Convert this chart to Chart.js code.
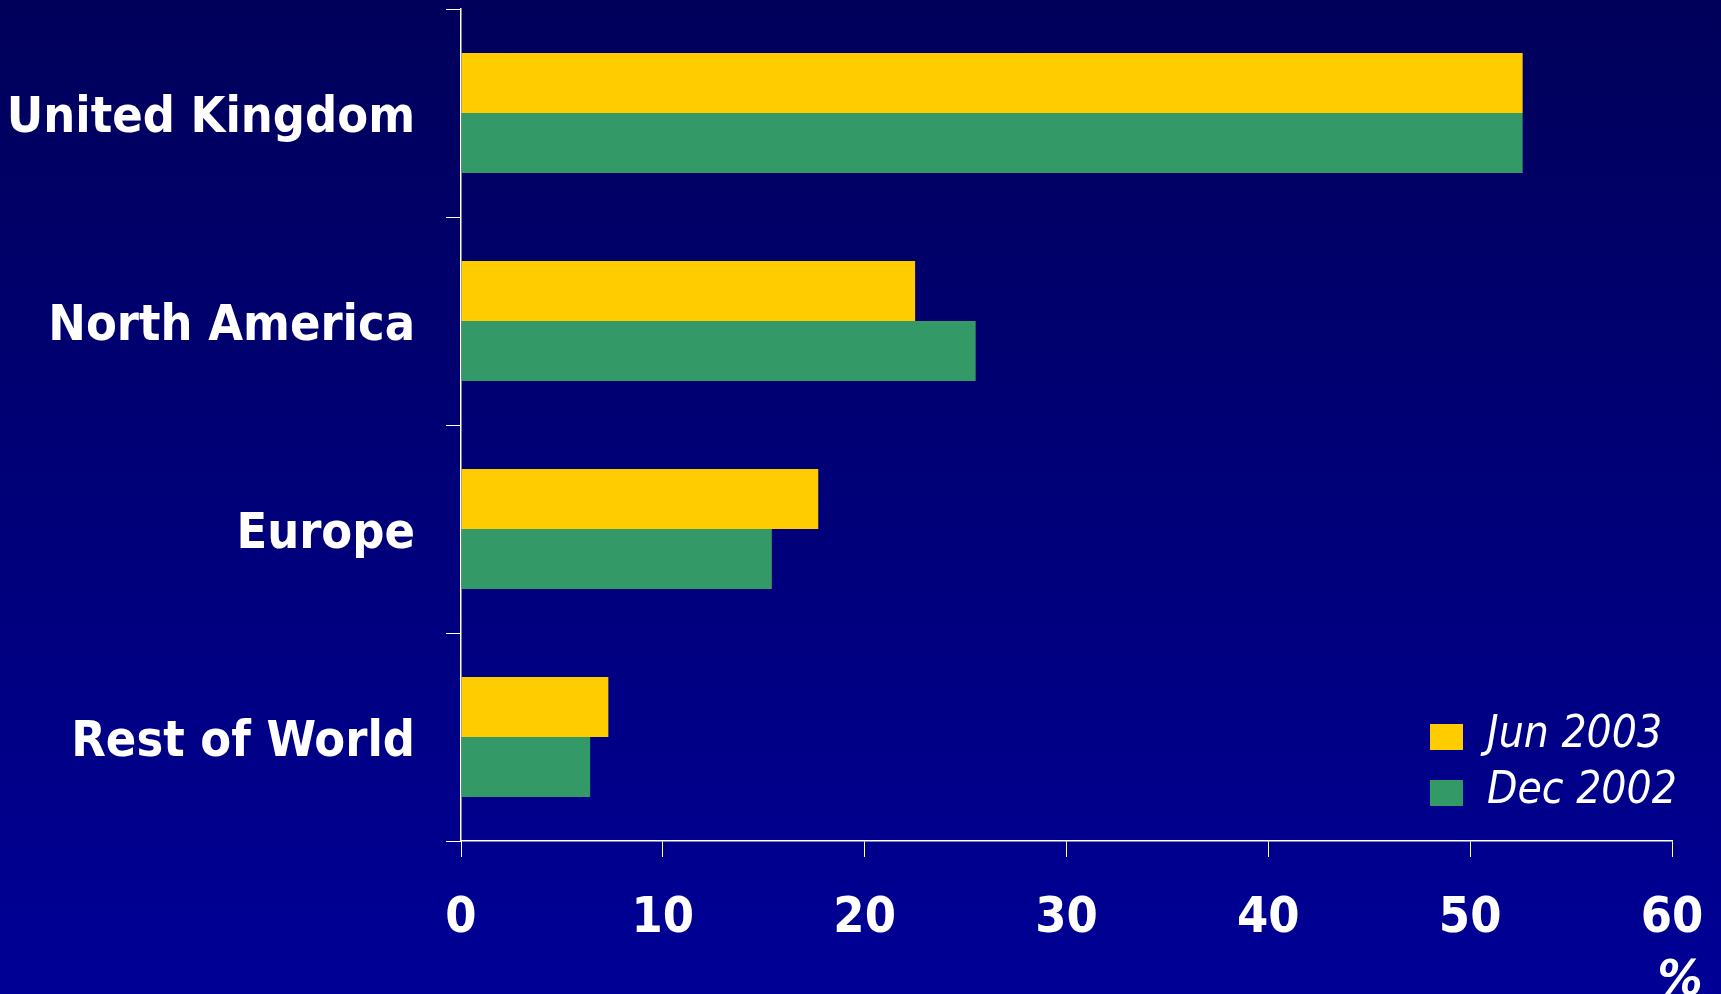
<!DOCTYPE html>
<html>
<head>
<meta charset="utf-8">
<script src="https://cdn.jsdelivr.net/npm/chart.js@4/dist/chart.umd.min.js"></script>
<style>
  html, body { margin: 0; padding: 0; }
  body { background: linear-gradient(#00005a, #000096); }
  #wrap { position: relative; width: 1721px; height: 994px; }
</style>
</head>
<body>
<div id="wrap"><canvas id="regions"></canvas></div>
<script>
  // Share of portfolio by region, %
  var REGIONS = ['United Kingdom', 'North America', 'Europe', 'Rest of World'];
  var JUN_2003 = [52.6, 22.5, 17.7, 7.3];
  var DEC_2002 = [52.6, 25.5, 15.4, 6.4];
  var SERIES_LABELS = ['Jun 2003', 'Dec 2002'];
  var X_TICKS = [0, 10, 20, 30, 40, 50, 60];

  var YELLOW = '#ffcc00';
  var GREEN = '#339966';
  var FONT = "'DejaVu Sans Condensed', 'DejaVu Sans', sans-serif";

  // Legend sits inside the plot, lower right; plus the "%" unit under the last tick.
  var overlay = {
    id: 'overlay',
    afterDraw: function (chart) {
      var ctx = chart.ctx;
      var area = chart.chartArea;
      ctx.save();
      ctx.font = 'italic 44px ' + FONT;
      ctx.textBaseline = 'alphabetic';
      ctx.textAlign = 'left';
      chart.data.datasets.forEach(function (ds, i) {
        var boxTop = area.bottom - 117 + i * 56;
        ctx.fillStyle = ds.backgroundColor;
        ctx.fillRect(area.right - 242, boxTop, 33, 26);
        ctx.fillStyle = '#ffffff';
        ctx.fillText(ds.label, area.right - 185, boxTop + 23);
      });
      ctx.font = 'italic bold 50px ' + FONT;
      ctx.textAlign = 'center';
      ctx.fillText('%', area.right + 8, 995);
      ctx.restore();
    }
  };

  // Drop the label overhang Chart.js reserves so the layout padding alone places the plot.
  function noOverhang(scale) {
    scale.paddingTop = 0;
    scale.paddingBottom = 0;
    scale.paddingLeft = 0;
    scale.paddingRight = 0;
  }

  new Chart(document.getElementById('regions'), {
    type: 'bar',
    data: {
      labels: REGIONS,
      datasets: [
        { label: SERIES_LABELS[0], data: JUN_2003, backgroundColor: YELLOW },
        { label: SERIES_LABELS[1], data: DEC_2002, backgroundColor: GREEN }
      ]
    },
    options: {
      indexAxis: 'y',
      responsive: true,
      maintainAspectRatio: false,
      animation: false,
      layout: { padding: { top: 9, right: 49, left: 0, bottom: 0 } },
      datasets: {
        bar: {
          barPercentage: 1,
          categoryPercentage: 0.577,
          borderWidth: 0
        }
      },
      plugins: {
        legend: { display: false },
        tooltip: { enabled: false }
      },
      scales: {
        x: {
          min: 0,
          max: 60,
          afterBuildTicks: function (scale) {
            scale.ticks = X_TICKS.map(function (v) { return { value: v }; });
          },
          afterFit: function (scale) {
            scale.height = 153;
            noOverhang(scale);
          },
          border: { display: true, color: '#ffffff', width: 1.5 },
          grid: { drawOnChartArea: false, drawTicks: true, tickLength: 16, color: '#ffffff' },
          ticks: {
            color: '#ffffff',
            padding: 32,
            maxRotation: 0,
            font: { family: FONT, size: 50, weight: 'bold' }
          }
        },
        y: {
          afterFit: function (scale) {
            scale.width = 461;
            noOverhang(scale);
          },
          border: { display: true, color: '#ffffff', width: 1.5 },
          grid: { drawOnChartArea: false, drawTicks: true, tickLength: 15, color: '#ffffff', offset: true },
          ticks: {
            color: '#ffffff',
            padding: 31,
            labelOffset: 6,
            font: { family: FONT, size: 50, weight: 'bold' }
          }
        }
      }
    },
    plugins: [overlay]
  });
</script>
</body>
</html>
